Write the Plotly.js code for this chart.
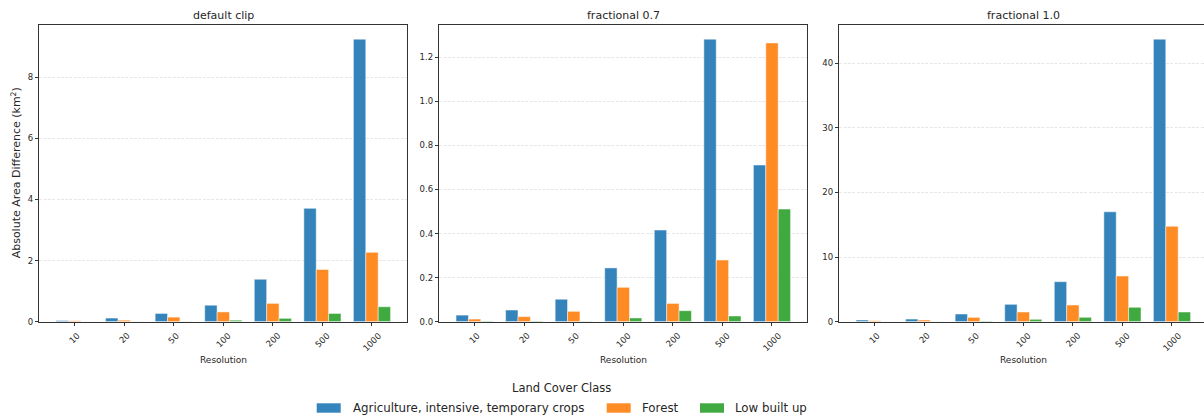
<!DOCTYPE html>
<html>
<head>
<meta charset="utf-8">
<script src="https://cdn.plot.ly/plotly-3.0.1.min.js"></script>
<style>
  html, body { margin: 0; padding: 0; overflow: hidden; background: #ffffff; }
  #chart { width: 1208px; height: 417px; }
</style>
</head>
<body>
<div id="chart"></div>
<script>
// Resolution steps (m) shown on every x axis
const resolutions = ['10', '20', '50', '100', '200', '500', '1000'];
const classNames = ['Agriculture, intensive, temporary crops', 'Forest', 'Low built up'];
const panelTitles = ['default clip', 'fractional 0.7', 'fractional 1.0'];
const legendTitle = 'Land Cover Class';

// Absolute area difference (km²) per class, default clip
const defaultAgri   = [0.04, 0.12, 0.27, 0.54, 1.39, 3.71, 9.25];
const defaultForest = [0.03, 0.05, 0.15, 0.32, 0.60, 1.71, 2.27];
const defaultBuilt  = [0.002, 0.004, 0.01, 0.05, 0.11, 0.27, 0.49];

// fractional 0.7
const frac07Agri   = [0.030, 0.053, 0.102, 0.244, 0.416, 1.282, 0.711];
const frac07Forest = [0.012, 0.023, 0.047, 0.156, 0.083, 0.280, 1.265];
const frac07Built  = [0.003, 0.003, 0.002, 0.017, 0.050, 0.026, 0.511];

// fractional 1.0
const frac10Agri   = [0.26, 0.41, 1.19, 2.69, 6.19, 17.0, 43.7];
const frac10Forest = [0.15, 0.26, 0.67, 1.50, 2.58, 7.07, 14.77];
const frac10Built  = [0.01, 0.02, 0.10, 0.37, 0.68, 2.23, 1.50];

const panelSeries = [
  [defaultAgri, defaultForest, defaultBuilt],
  [frac07Agri, frac07Forest, frac07Built],
  [frac10Agri, frac10Forest, frac10Built]
];

const classColors = ['#1f77b4', '#ff7f0e', '#2ca02c'];
const barOpacity = 0.9;
const textColor = '#262626';
const fontFamily = 'DejaVu Sans, sans-serif';

const figW = 1208, figH = 417;
const plotLeftPx = [39.3, 439.3, 839.3];
const plotWidthPx = 368;
const plotTopPx = 25, plotBottomPx = 321.7;
const yDomain = [(figH - plotBottomPx) / figH, (figH - plotTopPx) / figH];

const yTickSteps = [2, 0.2, 10];
const yTickFormats = ['d', '.1f', 'd'];

// figure legend below the panels (pixel layout)
const legendSwatchLeftPx = [316.7, 606.7, 700];
const legendTextLeftPx = [350.7, 640, 733.3];
const legendRowPx = 408;
const legendTitlePx = { x: 561, y: 388.3 };
const swatchW = 24, swatchH = 9.4;

const px = v => v / figW;
const py = v => (figH - v) / figH;

const traces = [];
const layout = {
  width: figW,
  height: figH,
  margin: { l: 0, r: 0, t: 0, b: 0, autoexpand: false },
  paper_bgcolor: '#ffffff',
  plot_bgcolor: '#ffffff',
  barmode: 'group',
  bargap: 0.25,
  bargroupgap: 0,
  font: { family: fontFamily, color: textColor, size: 8.5 },
  showlegend: false,
  annotations: [],
  shapes: []
};

panelSeries.forEach((series, p) => {
  const suffix = p === 0 ? '' : String(p + 1);
  const xId = 'x' + suffix, yId = 'y' + suffix;
  let maxVal = 0;
  series.forEach((vals, c) => {
    maxVal = Math.max(maxVal, ...vals);
    traces.push({
      type: 'bar',
      x: resolutions,
      y: vals,
      name: classNames[c],
      xaxis: xId,
      yaxis: yId,
      marker: { color: classColors[c], opacity: barOpacity, line: { color: '#ffffff', width: 0.5 } },
      hoverinfo: 'x+y+name'
    });
  });

  const x0 = px(plotLeftPx[p]);
  const x1 = px(plotLeftPx[p] + plotWidthPx);
  layout['xaxis' + suffix] = {
    domain: [x0, Math.min(x1, 1)],
    anchor: yId,
    type: 'category',
    categoryorder: 'array',
    categoryarray: resolutions,
    range: [-0.7125, resolutions.length - 1 + 0.7125],
    showticklabels: false,
    ticks: 'outside',
    ticklen: 3.5,
    tickwidth: 0.8,
    tickcolor: '#333333',
    showline: true,
    linecolor: '#333333',
    linewidth: 1,
    mirror: true,
    showgrid: false,
    zeroline: false,
    fixedrange: true
  };
  layout['yaxis' + suffix] = {
    domain: yDomain,
    anchor: xId,
    range: [0, maxVal * 1.05],
    dtick: yTickSteps[p],
    tick0: 0,
    tickformat: yTickFormats[p],
    ticks: 'outside',
    ticklen: 3.5,
    tickwidth: 0.8,
    tickcolor: '#333333',
    tickfont: { size: 8.5, family: fontFamily, color: textColor },
    showline: true,
    linecolor: '#333333',
    linewidth: 1,
    mirror: true,
    showgrid: true,
    gridcolor: 'rgba(176,176,176,0.3)',
    gridwidth: 0.8,
    griddash: '3px,1.3px',
    zeroline: false,
    fixedrange: true
  };

  // panel title
  layout.annotations.push({
    xref: xId + ' domain', x: 0.5,
    yref: 'paper', y: yDomain[1],
    xanchor: 'center', yanchor: 'bottom', yshift: 1,
    text: panelTitles[p], showarrow: false,
    font: { size: 11, family: fontFamily, color: textColor }
  });
  // x axis title
  layout.annotations.push({
    xref: xId + ' domain', x: 0.5,
    yref: 'paper', y: py(360),
    xanchor: 'center', yanchor: 'middle',
    text: 'Resolution', showarrow: false,
    font: { size: 9, family: fontFamily, color: textColor }
  });
  // rotated category labels, centred under each tick
  resolutions.forEach((r, i) => {
    layout.annotations.push({
      xref: xId, x: i,
      yref: 'paper', y: yDomain[0],
      xanchor: 'center', yanchor: 'top', yshift: -6,
      textangle: -45,
      text: r, showarrow: false,
      font: { size: 8.5, family: fontFamily, color: textColor }
    });
  });
});

// y axis title on the first panel
layout.annotations.push({
  xref: 'paper', x: px(16),
  yref: 'paper', y: (yDomain[0] + yDomain[1]) / 2,
  xanchor: 'center', yanchor: 'middle',
  textangle: -90,
  text: 'Absolute Area Difference (km<sup>2</sup>)', showarrow: false,
  font: { size: 11, family: fontFamily, color: textColor }
});

// legend: title, colour swatches and class names
layout.annotations.push({
  xref: 'paper', x: px(legendTitlePx.x),
  yref: 'paper', y: py(legendTitlePx.y),
  xanchor: 'center', yanchor: 'middle',
  text: legendTitle, showarrow: false,
  font: { size: 11.5, family: fontFamily, color: textColor }
});
classNames.forEach((name, c) => {
  layout.shapes.push({
    type: 'rect', xref: 'paper', yref: 'paper',
    x0: px(legendSwatchLeftPx[c]), x1: px(legendSwatchLeftPx[c] + swatchW),
    y0: py(legendRowPx + swatchH / 2), y1: py(legendRowPx - swatchH / 2),
    fillcolor: classColors[c], opacity: barOpacity,
    line: { width: 0 }
  });
  layout.annotations.push({
    xref: 'paper', x: px(legendTextLeftPx[c]),
    yref: 'paper', y: py(legendRowPx),
    xanchor: 'left', yanchor: 'middle',
    text: name, showarrow: false,
    font: { size: 11.8, family: fontFamily, color: textColor }
  });
});

Plotly.newPlot('chart', traces, layout, { displayModeBar: false, responsive: false });
</script>
</body>
</html>
